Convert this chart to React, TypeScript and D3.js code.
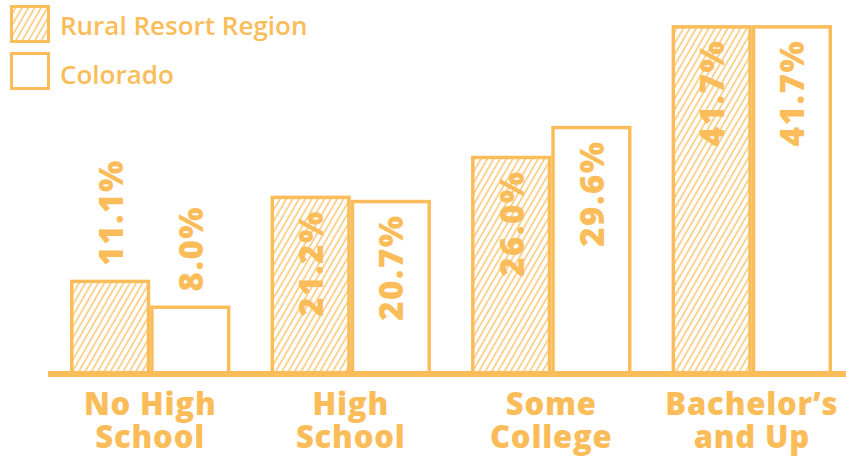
import React from "react";
import * as d3 from "d3";

const categories = ["No High School", "High School", "Some College", "Bachelor’s and Up"];
const categoryLines = [["No High", "School"], ["High", "School"], ["Some", "College"], ["Bachelor’s", "and Up"]];
const seriesNames = ["Rural Resort Region", "Colorado"];
const ruralValues = [11.1, 21.2, 26.0, 41.7];
const coloradoValues = [8.0, 20.7, 29.6, 41.7];
const valueLabelsRural = ["11.1%", "21.2%", "26.0%", "41.7%"];
const valueLabelsColorado = ["8.0%", "20.7%", "29.6%", "41.7%"];

const W = 846;
const H = 460;
const COLOR = "#FBBD5A";
const FONT = "'Open Sans', 'DejaVu Sans', sans-serif";

export default function App() {
  const x = d3.scaleBand<string>().domain(categories).range([70, 832]).paddingInner(0.2).paddingOuter(0);
  const xs = d3.scaleBand<string>().domain(seriesNames).range([0, x.bandwidth()]).padding(0);
  const y = d3.scaleLinear().domain([0, 44]).range([372, 6]);
  const sw = 3.5;
  const values = [ruralValues, coloradoValues];
  const labels = [valueLabelsRural, valueLabelsColorado];

  return (
    <svg width={W} height={H} style={{ position: "absolute", left: 0, top: 0 }} fontFamily={FONT}>
      <defs>
        <pattern id="hatch" patternUnits="userSpaceOnUse" width={5.5} height={10} patternTransform="rotate(30)">
          <rect width={5.5} height={10} fill="#fff" />
          <line x1={1} y1={0} x2={1} y2={10} stroke={COLOR} strokeWidth={1.6} strokeOpacity={0.8} />
        </pattern>
      </defs>
      <rect width={W} height={H} fill="#fff" />

      {/* legend */}
      <rect x={11.5} y={6.5} width={37} height={35} fill="url(#hatch)" stroke={COLOR} strokeWidth={3} />
      <text x={60} y={35} fill={COLOR} fontSize={26} fontWeight={600}>{seriesNames[0]}</text>
      <rect x={11.5} y={53.5} width={37} height={35} fill="#fff" stroke={COLOR} strokeWidth={3} />
      <text x={60} y={84} fill={COLOR} fontSize={26} fontWeight={600}>{seriesNames[1]}</text>

      {categories.map((c, i) => (
        <g key={c}>
          {seriesNames.map((s, j) => {
            const v = values[j][i];
            const bx = (x(c) as number) + (xs(s) as number);
            const bw = xs.bandwidth();
            const top = y(v);
            const cx = bx + bw / 2;
            const outside = v < 15;
            const ly = outside ? top - 14 : top + 121;
            return (
              <g key={s}>
                <rect
                  x={bx + sw / 2}
                  y={top + sw / 2}
                  width={bw - sw}
                  height={y(0) - top}
                  fill={j === 0 ? "url(#hatch)" : "#fff"}
                  stroke={COLOR}
                  strokeWidth={sw}
                />
                <text
                  transform={`translate(${cx},${ly}) rotate(-90)`}
                  fill={COLOR}
                  fontSize={33}
                  fontWeight={800}
                  letterSpacing={1.5}
                  dominantBaseline="central"
                  textAnchor="start"
                >
                  {labels[j][i]}
                </text>
              </g>
            );
          })}
          <text
            fill={COLOR}
            fontSize={31}
            fontWeight={800}
            letterSpacing={0.8}
            textAnchor="middle"
          >
            {categoryLines[i].map((ln, k) => (
              <tspan key={k} x={(x(c) as number) + x.bandwidth() / 2} y={415 + k * 33}>
                {ln}
              </tspan>
            ))}
          </text>
        </g>
      ))}

      <line x1={48} x2={W} y1={374} y2={374} stroke={COLOR} strokeWidth={6} />
    </svg>
  );
}
